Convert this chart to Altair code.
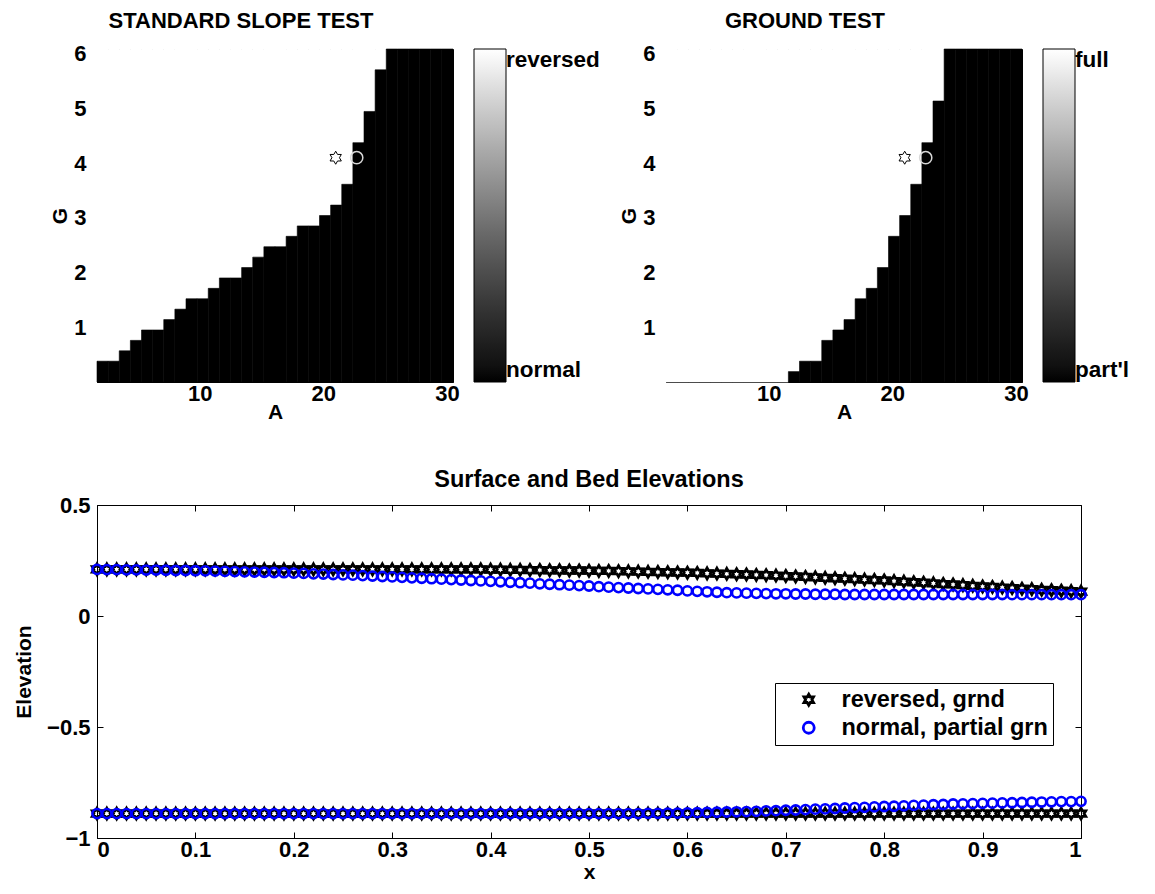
import altair as alt
import pandas as pd

FONT = "Liberation Sans"
HEX = ("M0,-1L0.289,-0.5L0.866,-0.5L0.577,0L0.866,0.5L0.289,0.5L0,1"
       "L-0.289,0.5L-0.866,0.5L-0.577,0L-0.866,-0.5L-0.289,-0.5Z")
IN_TICK = {"expr": "-6"}

# ---------------- parameter-space grids (32 x 32 cells) ----------------
A_FIRST_EDGE = 1.69
A_STEP = 0.9
G_FIRST_EDGE = 0.005
G_STEP = 0.19
N_CELLS = 32

# number of black ("normal" / "part'l") cells counted from the bottom of each A column
slope_black_rows = [2, 2, 3, 4, 5, 5, 6, 7, 8, 8, 9, 10, 10, 11, 12, 13,
                    13, 14, 15, 15, 16, 17, 19, 23, 26, 30, 32, 32, 32, 32, 32, 32]
ground_black_rows = [0, 0, 0, 0, 0, 0, 0, 0, 0, 0, 0, 1, 2, 2, 4, 5,
                     6, 8, 9, 11, 14, 16, 19, 23, 27, 32, 32, 32, 32, 32, 32, 32]

marker_A = [21.0, 22.7]
marker_G = [4.1, 4.1]

# ---------------- surface & bed profiles ----------------
x_vals = [round(i * 0.01, 2) for i in range(101)]

rev_surface = [
    0.210, 0.210, 0.210, 0.210, 0.210, 0.210, 0.210, 0.210, 0.210, 0.210,
    0.210, 0.210, 0.210, 0.210, 0.210, 0.210, 0.210, 0.210, 0.210, 0.210,
    0.210, 0.210, 0.210, 0.210, 0.210, 0.210, 0.210, 0.210, 0.210, 0.210,
    0.210, 0.210, 0.210, 0.210, 0.210, 0.210, 0.210, 0.210, 0.210, 0.210,
    0.209, 0.209, 0.208, 0.208, 0.207, 0.207, 0.206, 0.206, 0.205, 0.205,
    0.204, 0.203, 0.203, 0.202, 0.201, 0.200, 0.199, 0.198, 0.197, 0.196,
    0.195, 0.194, 0.192, 0.191, 0.190, 0.188, 0.187, 0.185, 0.184, 0.182,
    0.180, 0.178, 0.176, 0.174, 0.172, 0.170, 0.168, 0.166, 0.164, 0.162,
    0.160, 0.157, 0.155, 0.152, 0.150, 0.147, 0.144, 0.142, 0.139, 0.136,
    0.133, 0.131, 0.128, 0.126, 0.123, 0.121, 0.118, 0.116, 0.114, 0.112,
    0.110]
nor_surface = [
    0.210, 0.209, 0.209, 0.208, 0.208, 0.207, 0.207, 0.206, 0.205, 0.205,
    0.204, 0.203, 0.202, 0.201, 0.200, 0.199, 0.198, 0.197, 0.196, 0.195,
    0.193, 0.192, 0.190, 0.189, 0.187, 0.185, 0.184, 0.182, 0.180, 0.178,
    0.176, 0.174, 0.172, 0.170, 0.168, 0.166, 0.164, 0.162, 0.160, 0.158,
    0.156, 0.154, 0.152, 0.150, 0.148, 0.145, 0.143, 0.141, 0.139, 0.137,
    0.135, 0.132, 0.130, 0.128, 0.126, 0.124, 0.122, 0.120, 0.118, 0.116,
    0.113, 0.111, 0.109, 0.107, 0.105, 0.104, 0.103, 0.102, 0.101, 0.100,
    0.100, 0.099, 0.099, 0.098, 0.098, 0.098, 0.097, 0.097, 0.097, 0.097,
    0.097, 0.097, 0.097, 0.097, 0.097, 0.097, 0.097, 0.097, 0.097, 0.097,
    0.097, 0.097, 0.097, 0.096, 0.096, 0.096, 0.096, 0.096, 0.096, 0.096,
    0.096]
rev_bed = [
    -0.890, -0.890, -0.890, -0.890, -0.890, -0.890, -0.890, -0.890, -0.890, -0.890,
    -0.890, -0.890, -0.890, -0.890, -0.890, -0.890, -0.890, -0.890, -0.890, -0.890,
    -0.890, -0.890, -0.890, -0.890, -0.890, -0.890, -0.890, -0.890, -0.890, -0.890,
    -0.890, -0.890, -0.890, -0.890, -0.890, -0.890, -0.890, -0.890, -0.890, -0.890,
    -0.890, -0.890, -0.890, -0.890, -0.890, -0.890, -0.890, -0.890, -0.890, -0.890,
    -0.890, -0.890, -0.890, -0.890, -0.890, -0.890, -0.890, -0.890, -0.890, -0.890,
    -0.890, -0.890, -0.890, -0.890, -0.890, -0.890, -0.890, -0.890, -0.890, -0.890,
    -0.890, -0.890, -0.890, -0.890, -0.890, -0.890, -0.890, -0.890, -0.890, -0.890,
    -0.890, -0.890, -0.890, -0.890, -0.890, -0.890, -0.890, -0.890, -0.890, -0.890,
    -0.890, -0.890, -0.890, -0.890, -0.890, -0.890, -0.890, -0.890, -0.890, -0.890,
    -0.890]
nor_bed = [
    -0.890, -0.890, -0.890, -0.890, -0.890, -0.890, -0.890, -0.890, -0.890, -0.890,
    -0.890, -0.890, -0.890, -0.890, -0.890, -0.890, -0.890, -0.890, -0.890, -0.890,
    -0.890, -0.890, -0.890, -0.890, -0.890, -0.890, -0.890, -0.890, -0.890, -0.890,
    -0.890, -0.890, -0.890, -0.890, -0.890, -0.890, -0.890, -0.890, -0.890, -0.890,
    -0.890, -0.890, -0.890, -0.890, -0.890, -0.890, -0.890, -0.890, -0.890, -0.890,
    -0.890, -0.890, -0.890, -0.890, -0.890, -0.890, -0.889, -0.889, -0.888, -0.888,
    -0.887, -0.886, -0.885, -0.884, -0.883, -0.882, -0.881, -0.880, -0.878, -0.877,
    -0.875, -0.874, -0.872, -0.870, -0.869, -0.867, -0.865, -0.863, -0.862, -0.860,
    -0.858, -0.857, -0.855, -0.853, -0.852, -0.850, -0.849, -0.847, -0.846, -0.845,
    -0.844, -0.843, -0.842, -0.841, -0.840, -0.839, -0.838, -0.837, -0.836, -0.836,
    -0.835]

SER_REV = "reversed, grnd"
SER_NOR = "normal, partial grn"

A_LO = A_FIRST_EDGE
A_HI = A_FIRST_EDGE + N_CELLS * A_STEP
G_LO = G_FIRST_EDGE
G_HI = G_FIRST_EDGE + N_CELLS * G_STEP


def grid_frame(black_rows, want):
    recs = []
    for i, n in enumerate(black_rows):
        a0 = A_FIRST_EDGE + i * A_STEP
        a1 = a0 + A_STEP
        if want == 0 and n > 0:
            recs.append({"a0": a0, "a1": a1, "g0": G_LO, "g1": G_FIRST_EDGE + n * G_STEP, "v": 0})
        if want == 1 and n < N_CELLS:
            recs.append({"a0": a0, "a1": a1, "g0": G_FIRST_EDGE + n * G_STEP, "g1": G_HI, "v": 1})
    return pd.DataFrame(recs)


def heat_panel(black_rows, title, hi_label, lo_label, title_dx):
    xs = alt.Scale(domain=[A_LO, A_HI], nice=False, zero=False)
    ys = alt.Scale(domain=[G_LO, G_HI], nice=False, zero=False)
    gray = alt.Scale(domain=[0, 1], range=["#000000", "#ffffff"])
    legend = alt.Legend(
        title=None, values=[0, 1], type="gradient", direction="vertical",
        gradientLength=333, gradientThickness=32,
        gradientStrokeColor="black", gradientStrokeWidth=1,
        labelExpr=f"datum.value == 1 ? \"{hi_label}\" : \"{lo_label}\"",
        labelFont=FONT, labelFontWeight="bold", labelFontSize=22.5,
        labelBaseline="middle",
        labelColor="black", labelOffset=0, offset=20, padding=0)
    xax = alt.Axis(values=[10, 20, 30], title="A", tickSize=IN_TICK, labelPadding=7,
                   format="d", titlePadding=-3)
    yax = alt.Axis(values=[1, 2, 3, 4, 5, 6], title="G", tickSize=IN_TICK, labelPadding=17,
                   format="d", titlePadding=3)

    layers = []
    for want, col in ((1, "white"), (0, "black")):
        df = grid_frame(black_rows, want)
        if len(df) == 0:
            continue
        layers.append(alt.Chart(df).mark_rect(stroke=col, strokeWidth=0.6).encode(
            x=alt.X("a0:Q", scale=xs, axis=xax), x2="a1:Q",
            y=alt.Y("g0:Q", scale=ys, axis=yax), y2="g1:Q",
            color=alt.Color("v:Q", scale=gray, legend=legend),
        ))
    mk = pd.DataFrame({"a": marker_A[:1], "g": marker_G[:1]})
    mc = pd.DataFrame({"a": marker_A[1:], "g": marker_G[1:]})
    star = alt.Chart(mk).mark_point(shape=HEX, size=170, filled=True, fill="white",
                                    stroke="black", strokeWidth=1, opacity=1).encode(
        x=alt.X("a:Q", scale=xs, axis=xax), y=alt.Y("g:Q", scale=ys, axis=yax))
    circ = alt.Chart(mc).mark_point(shape="circle", size=150, filled=False,
                                    stroke="#d8d8d8", strokeWidth=1.5, opacity=1).encode(
        x=alt.X("a:Q", scale=xs, axis=xax), y=alt.Y("g:Q", scale=ys, axis=yax))
    ghost = alt.Chart(mk).mark_point(opacity=0).encode(
        x=alt.X("a:Q", scale=xs, axis=alt.Axis(orient="top", values=[10, 20, 30], labels=False,
                                                title=None, domain=False, tickSize=IN_TICK)),
        y=alt.Y("g:Q", scale=ys, axis=alt.Axis(orient="right", values=[1, 2, 3, 4, 5, 6],
                                                labels=False, title=None, domain=False,
                                                tickSize=IN_TICK)))
    main = alt.layer(*layers, star, circ)
    return alt.layer(main, ghost).resolve_axis(
        x="independent", y="independent"
    ).properties(
        width=356, height=333,
        title=alt.Title(title, fontSize=22, font=FONT, fontWeight="bold",
                        anchor="middle", frame="group", offset=10, dx=title_dx),
    )


left = heat_panel(slope_black_rows, "STANDARD SLOPE TEST", "reversed", "normal", -34)
right = heat_panel(ground_black_rows, "GROUND TEST", "full", "part'l", -39)

# ---------------- bottom profile panel ----------------
rows_rev = []
for xv, y in zip(x_vals, rev_surface):
    rows_rev.append({"x": xv, "y": y, "s": SER_REV})
for xv, y in zip(x_vals, rev_bed):
    rows_rev.append({"x": xv, "y": y, "s": SER_REV})
rows_nor = []
for xv, y in zip(x_vals, nor_surface):
    rows_nor.append({"x": xv, "y": y, "s": SER_NOR})
for xv, y in zip(x_vals, nor_bed):
    rows_nor.append({"x": xv, "y": y, "s": SER_NOR})

XT = [0, 0.1, 0.2, 0.3, 0.4, 0.5, 0.6, 0.7, 0.8, 0.9, 1]
YT = [-1, -0.5, 0, 0.5]
bx = alt.Scale(domain=[0, 1], nice=False)
by = alt.Scale(domain=[-1, 0.5], nice=False, zero=False)
bxax = alt.Axis(values=XT, format="~g", title="x", tickSize=IN_TICK, labelPadding=7,
                titlePadding=1)
byax = alt.Axis(values=YT, format="~g", title="Elevation", tickSize=IN_TICK,
                labelPadding=13, titlePadding=12)
col_scale = alt.Scale(domain=[SER_REV, SER_NOR], range=["#000000", "#0000ff"])
shp_scale = alt.Scale(domain=[SER_REV, SER_NOR], range=[HEX, "circle"])

leg = alt.Legend(title=None, orient="none", legendX=678, legendY=178,
                 strokeColor="black", fillColor="white", padding=5,
                 labelFont=FONT, labelFontWeight="bold", labelFontSize=23.5,
                 labelColor="black", symbolSize=120, symbolStrokeWidth=2.8,
                 symbolOffset=17, labelOffset=21, rowPadding=3,
                 labelLimit=400)

p_rev = alt.Chart(pd.DataFrame(rows_rev)).mark_point(
    filled=False, strokeWidth=2.8, size=120, opacity=1).encode(
    x=alt.X("x:Q", scale=bx, axis=bxax),
    y=alt.Y("y:Q", scale=by, axis=byax),
    color=alt.Color("s:N", scale=col_scale, legend=leg),
    shape=alt.Shape("s:N", scale=shp_scale, legend=leg),
)
p_nor = alt.Chart(pd.DataFrame(rows_nor)).mark_point(
    filled=False, strokeWidth=2.6, size=85, opacity=1).encode(
    x=alt.X("x:Q", scale=bx, axis=bxax),
    y=alt.Y("y:Q", scale=by, axis=byax),
    color=alt.Color("s:N", scale=col_scale, legend=leg),
    shape=alt.Shape("s:N", scale=shp_scale, legend=leg),
)
b_ghost = alt.Chart(pd.DataFrame(rows_rev[:1])).mark_point(opacity=0).encode(
    x=alt.X("x:Q", scale=bx, axis=alt.Axis(orient="top", values=XT, labels=False, title=None,
                                           domain=False, tickSize=IN_TICK)),
    y=alt.Y("y:Q", scale=by, axis=alt.Axis(orient="right", values=YT, labels=False, title=None,
                                           domain=False, tickSize=IN_TICK)),
)
bottom = alt.layer(alt.layer(p_rev, p_nor), b_ghost).resolve_axis(
    x="independent", y="independent"
).properties(
    width=984, height=333,
    title=alt.Title("Surface and Bed Elevations", fontSize=23.5, font=FONT,
                    fontWeight="bold", anchor="middle", frame="group", offset=3),
)

top = alt.hconcat(left, right, spacing=213, bounds="flush").resolve_scale(
    color="independent", x="independent", y="independent")

chart = alt.vconcat(top, bottom, spacing=456, bounds="flush").resolve_scale(
    color="independent", shape="independent", x="independent", y="independent"
).properties(
    padding={"left": 5, "top": 1, "right": 5, "bottom": 5}
).configure_axis(
    labelFont=FONT, labelFontWeight="bold", labelFontSize=22, labelColor="black",
    titleFont=FONT, titleFontWeight="bold", titleFontSize=21, titleColor="black",
    domainColor="black", tickColor="black", grid=False,
).configure_view(stroke="black", strokeWidth=1)

chart.save("out.html", embed_options={"renderer": "svg", "actions": False})
